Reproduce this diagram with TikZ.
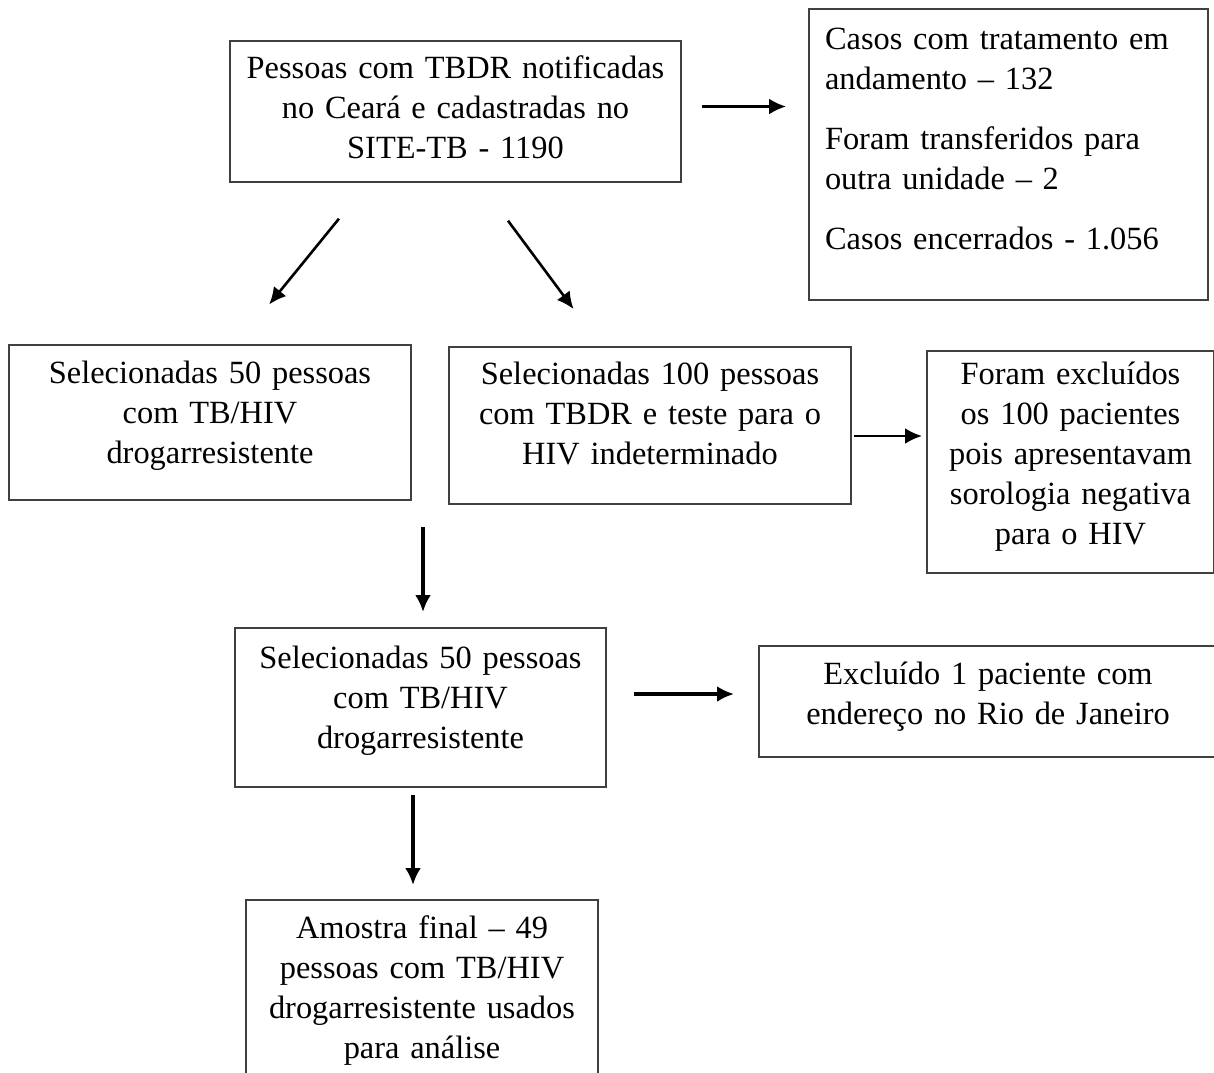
\documentclass[tikz,border=0pt]{standalone}
\usepackage{fontspec}
\setmainfont{Liberation Serif}
\usetikzlibrary{arrows.meta}
\definecolor{boxgray}{gray}{0.25}
\tikzset{>={Latex[length=8.5pt,width=8pt]}}
\tikzset{
  box/.style = {draw=boxgray, line width=1pt, anchor=north west,
    inner xsep=0pt, inner ysep=0pt, align=center,
    font=\fontsize{16.2}{20}\selectfont},
  arr/.style = {->, line width=1.3pt},
  heavyarr/.style = {->, line width=2pt}
}

\begin{document}
\begin{tikzpicture}[x=0.5pt, y=-0.5pt]
  \useasboundingbox (0,0) rectangle (1214,1072);
  % boxes
  \node[box, text width=225.5pt, text height=18.5pt, text depth=52pt] (notif) at (229,40)
    {Pessoas com TBDR notificadas\\ no Ceará e cadastradas no\\ SITE-TB - 1190};
  \node[box, align=left, inner xsep=8pt, text width=183.5pt, text height=20pt, text depth=125.5pt] (casos) at (808,8)
    {Casos com tratamento em\\ andamento – 132\\[10pt] Foram transferidos para\\ outra unidade – 2\\[10pt] Casos encerrados - 1.056};
  \node[box, text width=201pt, text height=19pt, text depth=58.5pt] (sel50) at (8,344)
    {Selecionadas 50 pessoas\\ com TB/HIV\\ drogarresistente};
  \node[box, text width=201pt, text height=18.5pt, text depth=60pt] (sel100) at (448,346)
    {Selecionadas 100 pessoas\\ com TBDR e teste para o\\ HIV indeterminado};
  \node[box, text width=143.5pt, text height=16.5pt, text depth=94.5pt] (excl100) at (926,350)
    {Foram excluídos\\ os 100 pacientes\\ pois apresentavam\\ sorologia negativa\\ para o HIV};
  \node[box, text width=185.5pt, text height=20pt, text depth=59.5pt] (final50) at (234,627)
    {Selecionadas 50 pessoas\\ com TB/HIV\\ drogarresistente};
  \node[box, text width=229pt, text height=19pt, text depth=36.5pt] (excl1) at (758,645)
    {Excluído 1 paciente com\\ endereço no Rio de Janeiro};
  \node[box, text width=176pt, text height=19pt, text depth=76.5pt] (amostra) at (245,899)
    {Amostra final – 49\\ pessoas com TB/HIV\\ drogarresistente usados\\ para análise};
  % arrows
  \draw[arr, shorten <=10pt, shorten >=11pt] ([yshift=2.5pt]notif.east) -- ([yshift=2.5pt]notif.east -| casos.west);
  \draw[arr, shorten <=23pt, shorten >=25.5pt] ([xshift=69.5pt]notif.south west) -- ([xshift=114.5pt]sel50.north west);
  \draw[arr, shorten <=23.5pt, shorten >=23pt] ([xshift=125.5pt]notif.south west) -- ([xshift=76.5pt]sel100.north west);
  \draw[arr, shorten <=1pt, shorten >=2pt] ([yshift=-5.25pt]sel100.east) -- ([yshift=-5.25pt]sel100.east -| excl100.west);
  \draw[heavyarr, shorten <=13pt, shorten >=7.5pt] ([xshift=1.25pt]final50.north |- sel50.south) -- ([xshift=1.25pt]final50.north);
  \draw[heavyarr, shorten <=13.5pt, shorten >=12pt] ([yshift=6.75pt]final50.east) -- ([yshift=6.75pt]final50.east -| excl1.west);
  \draw[heavyarr, shorten <=3.5pt, shorten >=7pt] ([xshift=-3.75pt]final50.south) -- ([xshift=-3.75pt]final50.south |- amostra.north);
\end{tikzpicture}
\end{document}
